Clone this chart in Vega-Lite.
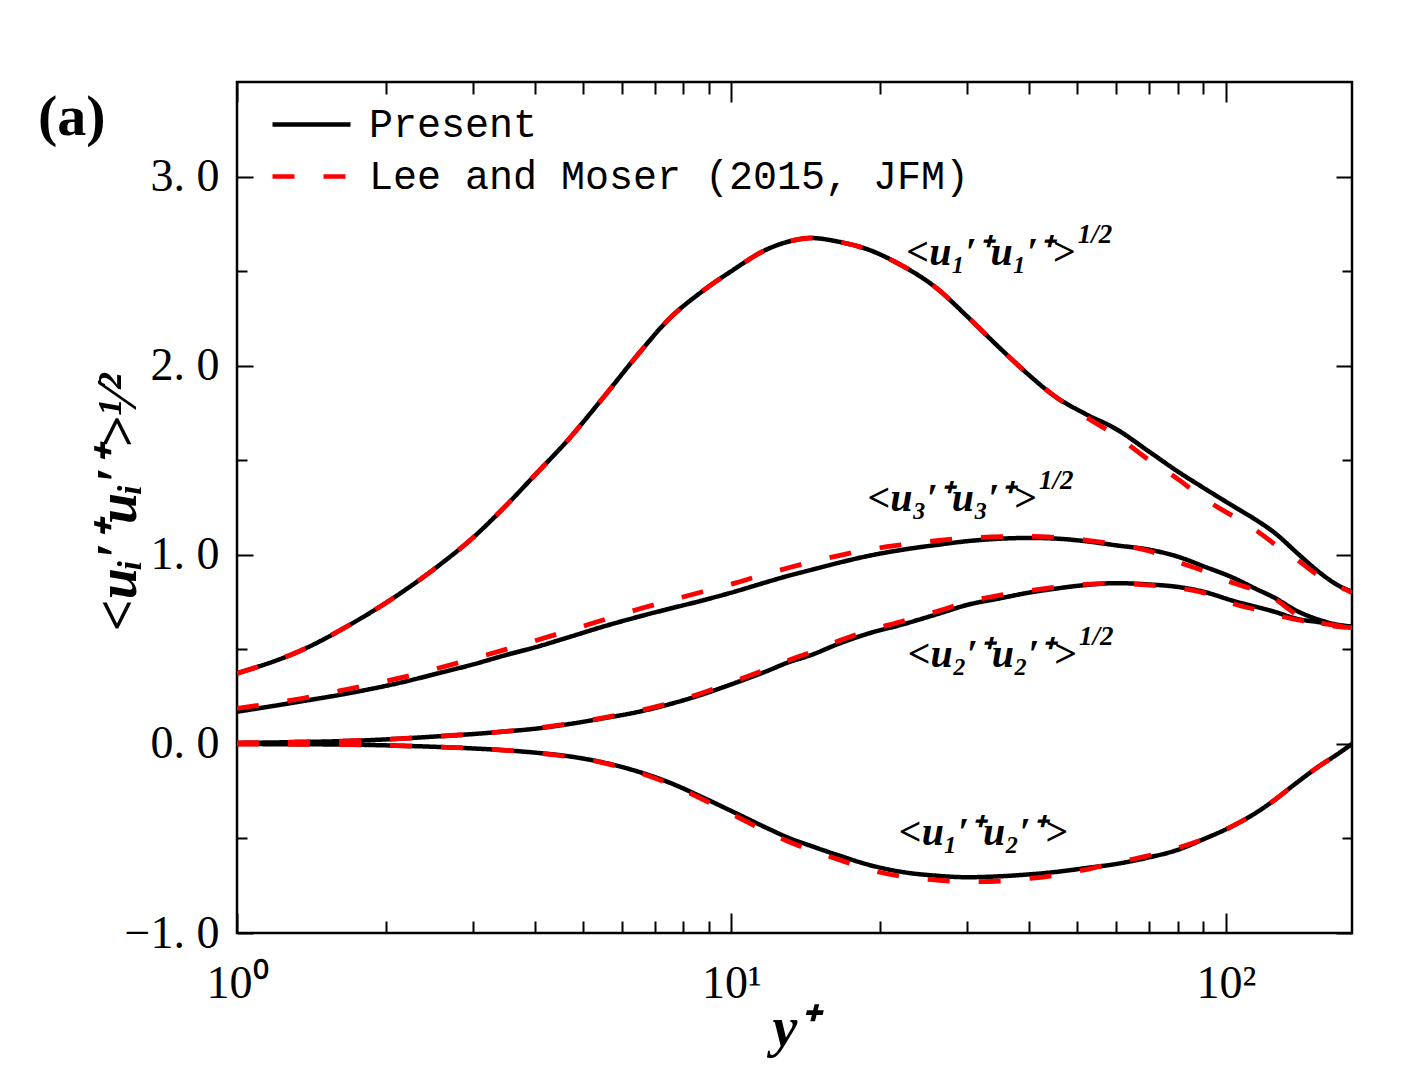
{
  "$schema": "https://vega.github.io/schema/vega-lite/v6.json",
  "width": 1115,
  "height": 851,
  "autosize": {"type": "none"},
  "padding": {"left": 237, "top": 82, "right": 69, "bottom": 157},
  "background": "white",
  "title": {"text": "(a)", "anchor": "start", "frame": "group", "font": "Liberation Serif", "fontSize": 58, "fontWeight": "bold", "color": "black", "dx": -199, "dy": 66, "offset": 0},
  "config": {
    "view": {"stroke": "black", "strokeWidth": 2.5},
    "axis": {"domain": false, "grid": false, "tickColor": "black", "tickWidth": 2, "labelColor": "black", "titleColor": "black"}
  },
  "datasets": {
    "curves": [
      {"src": "Present", "yp": 1, "u1": 0.373, "u2": 0.005, "u3": 0.17, "uv": -0.001},
      {"src": "Present", "yp": 1.35, "u1": 0.495, "u2": 0.01, "u3": 0.225, "uv": -0.002},
      {"src": "Present", "yp": 1.7, "u1": 0.633, "u2": 0.016, "u3": 0.27, "uv": -0.004},
      {"src": "Present", "yp": 2.15, "u1": 0.8, "u2": 0.028, "u3": 0.325, "uv": -0.01},
      {"src": "Present", "yp": 2.55, "u1": 0.94, "u2": 0.04, "u3": 0.373, "uv": -0.016},
      {"src": "Present", "yp": 3, "u1": 1.09, "u2": 0.052, "u3": 0.42, "uv": -0.024},
      {"src": "Present", "yp": 3.5, "u1": 1.26, "u2": 0.066, "u3": 0.47, "uv": -0.034},
      {"src": "Present", "yp": 4, "u1": 1.42, "u2": 0.08, "u3": 0.51, "uv": -0.046},
      {"src": "Present", "yp": 4.7, "u1": 1.615, "u2": 0.105, "u3": 0.565, "uv": -0.066},
      {"src": "Present", "yp": 5.5, "u1": 1.83, "u2": 0.135, "u3": 0.62, "uv": -0.098},
      {"src": "Present", "yp": 6.5, "u1": 2.065, "u2": 0.17, "u3": 0.673, "uv": -0.148},
      {"src": "Present", "yp": 7.5, "u1": 2.25, "u2": 0.21, "u3": 0.715, "uv": -0.205},
      {"src": "Present", "yp": 8.7, "u1": 2.39, "u2": 0.26, "u3": 0.757, "uv": -0.28},
      {"src": "Present", "yp": 10, "u1": 2.5, "u2": 0.315, "u3": 0.8, "uv": -0.355},
      {"src": "Present", "yp": 11.8, "u1": 2.615, "u2": 0.385, "u3": 0.856, "uv": -0.445},
      {"src": "Present", "yp": 13, "u1": 2.655, "u2": 0.43, "u3": 0.888, "uv": -0.495},
      {"src": "Present", "yp": 14.5, "u1": 2.675, "u2": 0.47, "u3": 0.92, "uv": -0.54},
      {"src": "Present", "yp": 16.5, "u1": 2.655, "u2": 0.53, "u3": 0.958, "uv": -0.59},
      {"src": "Present", "yp": 19, "u1": 2.612, "u2": 0.585, "u3": 0.995, "uv": -0.64},
      {"src": "Present", "yp": 22, "u1": 2.533, "u2": 0.629, "u3": 1.025, "uv": -0.676},
      {"src": "Present", "yp": 26, "u1": 2.41, "u2": 0.685, "u3": 1.052, "uv": -0.697},
      {"src": "Present", "yp": 30, "u1": 2.26, "u2": 0.735, "u3": 1.072, "uv": -0.705},
      {"src": "Present", "yp": 35, "u1": 2.09, "u2": 0.77, "u3": 1.085, "uv": -0.7},
      {"src": "Present", "yp": 40, "u1": 1.95, "u2": 0.8, "u3": 1.089, "uv": -0.69},
      {"src": "Present", "yp": 45, "u1": 1.84, "u2": 0.82, "u3": 1.086, "uv": -0.678},
      {"src": "Present", "yp": 52, "u1": 1.745, "u2": 0.84, "u3": 1.072, "uv": -0.657},
      {"src": "Present", "yp": 60, "u1": 1.665, "u2": 0.85, "u3": 1.05, "uv": -0.635},
      {"src": "Present", "yp": 70, "u1": 1.545, "u2": 0.843, "u3": 1.027, "uv": -0.6},
      {"src": "Present", "yp": 80, "u1": 1.44, "u2": 0.83, "u3": 0.99, "uv": -0.56},
      {"src": "Present", "yp": 90, "u1": 1.355, "u2": 0.805, "u3": 0.94, "uv": -0.505},
      {"src": "Present", "yp": 104, "u1": 1.254, "u2": 0.755, "u3": 0.876, "uv": -0.43},
      {"src": "Present", "yp": 115, "u1": 1.185, "u2": 0.725, "u3": 0.82, "uv": -0.365},
      {"src": "Present", "yp": 125, "u1": 1.12, "u2": 0.7, "u3": 0.775, "uv": -0.3},
      {"src": "Present", "yp": 140, "u1": 1.005, "u2": 0.66, "u3": 0.7, "uv": -0.2},
      {"src": "Present", "yp": 155, "u1": 0.905, "u2": 0.643, "u3": 0.655, "uv": -0.115},
      {"src": "Present", "yp": 167, "u1": 0.845, "u2": 0.628, "u3": 0.632, "uv": -0.06},
      {"src": "Present", "yp": 180, "u1": 0.805, "u2": 0.62, "u3": 0.62, "uv": 0.0},
      {"src": "Lee and Moser (2015, JFM)", "yp": 1, "u1": 0.373, "u2": 0.005, "u3": 0.188, "uv": -0.001},
      {"src": "Lee and Moser (2015, JFM)", "yp": 1.35, "u1": 0.495, "u2": 0.01, "u3": 0.24, "uv": -0.002},
      {"src": "Lee and Moser (2015, JFM)", "yp": 1.7, "u1": 0.633, "u2": 0.016, "u3": 0.293, "uv": -0.004},
      {"src": "Lee and Moser (2015, JFM)", "yp": 2.15, "u1": 0.8, "u2": 0.028, "u3": 0.35, "uv": -0.01},
      {"src": "Lee and Moser (2015, JFM)", "yp": 2.55, "u1": 0.94, "u2": 0.04, "u3": 0.4, "uv": -0.016},
      {"src": "Lee and Moser (2015, JFM)", "yp": 3, "u1": 1.09, "u2": 0.052, "u3": 0.45, "uv": -0.024},
      {"src": "Lee and Moser (2015, JFM)", "yp": 3.5, "u1": 1.26, "u2": 0.066, "u3": 0.5, "uv": -0.034},
      {"src": "Lee and Moser (2015, JFM)", "yp": 4, "u1": 1.42, "u2": 0.082, "u3": 0.545, "uv": -0.047},
      {"src": "Lee and Moser (2015, JFM)", "yp": 4.7, "u1": 1.615, "u2": 0.107, "u3": 0.6, "uv": -0.068},
      {"src": "Lee and Moser (2015, JFM)", "yp": 5.5, "u1": 1.83, "u2": 0.138, "u3": 0.655, "uv": -0.1},
      {"src": "Lee and Moser (2015, JFM)", "yp": 6.5, "u1": 2.065, "u2": 0.175, "u3": 0.713, "uv": -0.152},
      {"src": "Lee and Moser (2015, JFM)", "yp": 7.5, "u1": 2.25, "u2": 0.215, "u3": 0.758, "uv": -0.212},
      {"src": "Lee and Moser (2015, JFM)", "yp": 8.7, "u1": 2.39, "u2": 0.268, "u3": 0.803, "uv": -0.29},
      {"src": "Lee and Moser (2015, JFM)", "yp": 10, "u1": 2.5, "u2": 0.325, "u3": 0.845, "uv": -0.37},
      {"src": "Lee and Moser (2015, JFM)", "yp": 11.8, "u1": 2.615, "u2": 0.395, "u3": 0.9, "uv": -0.465},
      {"src": "Lee and Moser (2015, JFM)", "yp": 13, "u1": 2.655, "u2": 0.44, "u3": 0.93, "uv": -0.515},
      {"src": "Lee and Moser (2015, JFM)", "yp": 14.5, "u1": 2.675, "u2": 0.485, "u3": 0.962, "uv": -0.563},
      {"src": "Lee and Moser (2015, JFM)", "yp": 16.5, "u1": 2.655, "u2": 0.545, "u3": 0.996, "uv": -0.612},
      {"src": "Lee and Moser (2015, JFM)", "yp": 19, "u1": 2.612, "u2": 0.6, "u3": 1.028, "uv": -0.665},
      {"src": "Lee and Moser (2015, JFM)", "yp": 22, "u1": 2.533, "u2": 0.646, "u3": 1.052, "uv": -0.7},
      {"src": "Lee and Moser (2015, JFM)", "yp": 26, "u1": 2.41, "u2": 0.7, "u3": 1.075, "uv": -0.72},
      {"src": "Lee and Moser (2015, JFM)", "yp": 30, "u1": 2.26, "u2": 0.75, "u3": 1.088, "uv": -0.729},
      {"src": "Lee and Moser (2015, JFM)", "yp": 35, "u1": 2.09, "u2": 0.787, "u3": 1.096, "uv": -0.725},
      {"src": "Lee and Moser (2015, JFM)", "yp": 40, "u1": 1.95, "u2": 0.81, "u3": 1.097, "uv": -0.712},
      {"src": "Lee and Moser (2015, JFM)", "yp": 45, "u1": 1.84, "u2": 0.828, "u3": 1.092, "uv": -0.695},
      {"src": "Lee and Moser (2015, JFM)", "yp": 52, "u1": 1.73, "u2": 0.843, "u3": 1.078, "uv": -0.665},
      {"src": "Lee and Moser (2015, JFM)", "yp": 60, "u1": 1.63, "u2": 0.848, "u3": 1.055, "uv": -0.628},
      {"src": "Lee and Moser (2015, JFM)", "yp": 70, "u1": 1.5, "u2": 0.84, "u3": 1.02, "uv": -0.59},
      {"src": "Lee and Moser (2015, JFM)", "yp": 80, "u1": 1.4, "u2": 0.825, "u3": 0.962, "uv": -0.55},
      {"src": "Lee and Moser (2015, JFM)", "yp": 90, "u1": 1.3, "u2": 0.8, "u3": 0.915, "uv": -0.505},
      {"src": "Lee and Moser (2015, JFM)", "yp": 104, "u1": 1.2, "u2": 0.74, "u3": 0.849, "uv": -0.43},
      {"src": "Lee and Moser (2015, JFM)", "yp": 115, "u1": 1.13, "u2": 0.71, "u3": 0.812, "uv": -0.365},
      {"src": "Lee and Moser (2015, JFM)", "yp": 125, "u1": 1.06, "u2": 0.685, "u3": 0.77, "uv": -0.3},
      {"src": "Lee and Moser (2015, JFM)", "yp": 140, "u1": 0.97, "u2": 0.655, "u3": 0.68, "uv": -0.2},
      {"src": "Lee and Moser (2015, JFM)", "yp": 155, "u1": 0.885, "u2": 0.635, "u3": 0.64, "uv": -0.115},
      {"src": "Lee and Moser (2015, JFM)", "yp": 167, "u1": 0.84, "u2": 0.622, "u3": 0.627, "uv": -0.06},
      {"src": "Lee and Moser (2015, JFM)", "yp": 180, "u1": 0.8, "u2": 0.615, "u3": 0.615, "uv": 0.0}
    ],
    "labels": [
      {"lab": "<u₁′⁺u₁′⁺>", "sup": "1/2", "yp": 49.5, "v": 2.532},
      {"lab": "<u₃′⁺u₃′⁺>", "sup": "1/2", "yp": 41.3, "v": 1.229},
      {"lab": "<u₂′⁺u₂′⁺>", "sup": "1/2", "yp": 49.8, "v": 0.408},
      {"lab": "<u₁′⁺u₂′⁺>", "sup": "", "yp": 47.8, "v": -0.535}
    ]
  },
  "layer": [
    {
      "data": {"name": "curves"},
      "transform": [
        {"filter": "datum.src == 'Present'"},
        {"fold": ["u1", "u2", "u3", "uv"], "as": ["comp", "val"]}
      ],
      "mark": {"type": "line", "interpolate": "monotone", "strokeWidth": 4.5, "clip": true},
      "encoding": {
        "x": {
          "field": "yp", "type": "quantitative",
          "scale": {"type": "log", "domain": [1, 180], "nice": false},
          "axis": {
            "orient": "bottom",
            "values": [1, 2, 3, 4, 5, 6, 7, 8, 9, 10, 20, 30, 40, 50, 60, 70, 80, 90, 100],
            "labelExpr": "datum.value == 1 ? '10⁰' : datum.value == 10 ? '10¹' : datum.value == 100 ? '10²' : ''",
            "tickSize": {"condition": {"test": "datum.value == 1 || datum.value == 10 || datum.value == 100", "value": -20}, "value": -12},
            "labelFont": "Liberation Serif", "labelFontSize": 46, "labelPadding": 48, "labelFlush": false, "labelOverlap": false,
            "title": "y⁺", "titleFont": "Liberation Serif", "titleFontSize": 56, "titleFontWeight": "bold", "titleFontStyle": "italic",
            "titleX": 557, "titleY": 112, "titleBaseline": "alphabetic", "titleAlign": "center"
          }
        },
        "y": {
          "field": "val", "type": "quantitative",
          "scale": {"domain": [-1, 3.5], "nice": false, "zero": false},
          "axis": {
            "orient": "left",
            "values": [-1, -0.5, 0, 0.5, 1, 1.5, 2, 2.5, 3],
            "labelExpr": "datum.value % 1 == 0 ? replace(format(datum.value, '.1f'), '.', '. ') : ''",
            "tickSize": {"condition": {"test": "datum.value % 1 == 0", "value": -16}, "value": -10},
            "labelFont": "Liberation Serif", "labelFontSize": 46, "labelPadding": 34, "labelOverlap": false, "labelFlush": false,
            "title": "<uᵢ′⁺uᵢ′⁺>¹⁄²", "titleFont": "Liberation Serif", "titleFontSize": 56, "titleFontWeight": "bold", "titleFontStyle": "italic",
            "titleX": -119, "titleY": 420, "titleAngle": -90, "titleAlign": "center", "titleBaseline": "middle"
          }
        },
        "color": {
          "field": "src", "type": "nominal",
          "scale": {"domain": ["Present", "Lee and Moser (2015, JFM)"], "range": ["#000000", "#ff0000"]},
          "legend": {"orient": "none", "legendX": 46, "legendY": 14, "title": null, "symbolType": "M-1.5,0H1.5", "symbolSize": 2704, "symbolStrokeWidth": 4.5, "labelFont": "Liberation Mono", "labelFontSize": 40, "labelColor": "black", "labelOffset": 29, "rowPadding": 3, "padding": 0, "labelLimit": 0}
        },
        "strokeDash": {
          "field": "src", "type": "nominal",
          "scale": {"domain": ["Present", "Lee and Moser (2015, JFM)"], "range": [[1, 0], [22, 29]]},
          "legend": {"orient": "none", "legendX": 46, "legendY": 14, "title": null, "symbolType": "M-1.5,0H1.5", "symbolSize": 2704, "symbolStrokeWidth": 4.5, "labelFont": "Liberation Mono", "labelFontSize": 40, "labelColor": "black", "labelOffset": 29, "rowPadding": 3, "padding": 0, "labelLimit": 0}
        },
        "detail": {"field": "comp", "type": "nominal"}
      }
    },
    {
      "data": {"name": "curves"},
      "transform": [
        {"filter": "datum.src != 'Present'"},
        {"fold": ["u1", "u2", "u3", "uv"], "as": ["comp", "val"]}
      ],
      "mark": {"type": "line", "interpolate": "monotone", "strokeWidth": 4.8, "clip": true},
      "encoding": {
        "x": {
          "field": "yp", "type": "quantitative",
          "axis": {
            "orient": "top",
            "values": [1, 2, 3, 4, 5, 6, 7, 8, 9, 10, 20, 30, 40, 50, 60, 70, 80, 90, 100],
            "labels": false, "title": null,
            "tickSize": {"condition": {"test": "datum.value == 1 || datum.value == 10 || datum.value == 100", "value": -20}, "value": -12}
          }
        },
        "y": {
          "field": "val", "type": "quantitative",
          "axis": {
            "orient": "right",
            "values": [-1, -0.5, 0, 0.5, 1, 1.5, 2, 2.5, 3],
            "labels": false, "title": null,
            "tickSize": {"condition": {"test": "datum.value % 1 == 0", "value": -16}, "value": -10}
          }
        },
        "color": {
          "field": "src", "type": "nominal",
          "scale": {"domain": ["Present", "Lee and Moser (2015, JFM)"], "range": ["#000000", "#ff0000"]},
          "legend": {"orient": "none", "legendX": 46, "legendY": 14, "title": null, "symbolType": "M-1.5,0H1.5", "symbolSize": 2704, "symbolStrokeWidth": 4.5, "labelFont": "Liberation Mono", "labelFontSize": 40, "labelColor": "black", "labelOffset": 29, "rowPadding": 3, "padding": 0, "labelLimit": 0}
        },
        "strokeDash": {
          "field": "src", "type": "nominal",
          "scale": {"domain": ["Present", "Lee and Moser (2015, JFM)"], "range": [[1, 0], [22, 29]]},
          "legend": {"orient": "none", "legendX": 46, "legendY": 14, "title": null, "symbolType": "M-1.5,0H1.5", "symbolSize": 2704, "symbolStrokeWidth": 4.5, "labelFont": "Liberation Mono", "labelFontSize": 40, "labelColor": "black", "labelOffset": 29, "rowPadding": 3, "padding": 0, "labelLimit": 0}
        },
        "detail": {"field": "comp", "type": "nominal"}
      }
    },
    {
      "data": {"name": "labels"},
      "mark": {"type": "text", "align": "right", "baseline": "alphabetic", "font": "Liberation Serif", "fontSize": 40, "fontWeight": "bold", "fontStyle": "italic", "color": "black"},
      "encoding": {
        "x": {"field": "yp", "type": "quantitative", "axis": null},
        "y": {"field": "v", "type": "quantitative", "axis": null},
        "text": {"field": "lab"}
      }
    },
    {
      "data": {"name": "labels"},
      "transform": [{"filter": "datum.sup != ''"}],
      "mark": {"type": "text", "align": "left", "baseline": "alphabetic", "font": "Liberation Serif", "fontSize": 27, "fontWeight": "bold", "fontStyle": "italic", "color": "black", "dx": 3, "dy": -22},
      "encoding": {
        "x": {"field": "yp", "type": "quantitative", "axis": null},
        "y": {"field": "v", "type": "quantitative", "axis": null},
        "text": {"field": "sup"}
      }
    }
  ]
}
